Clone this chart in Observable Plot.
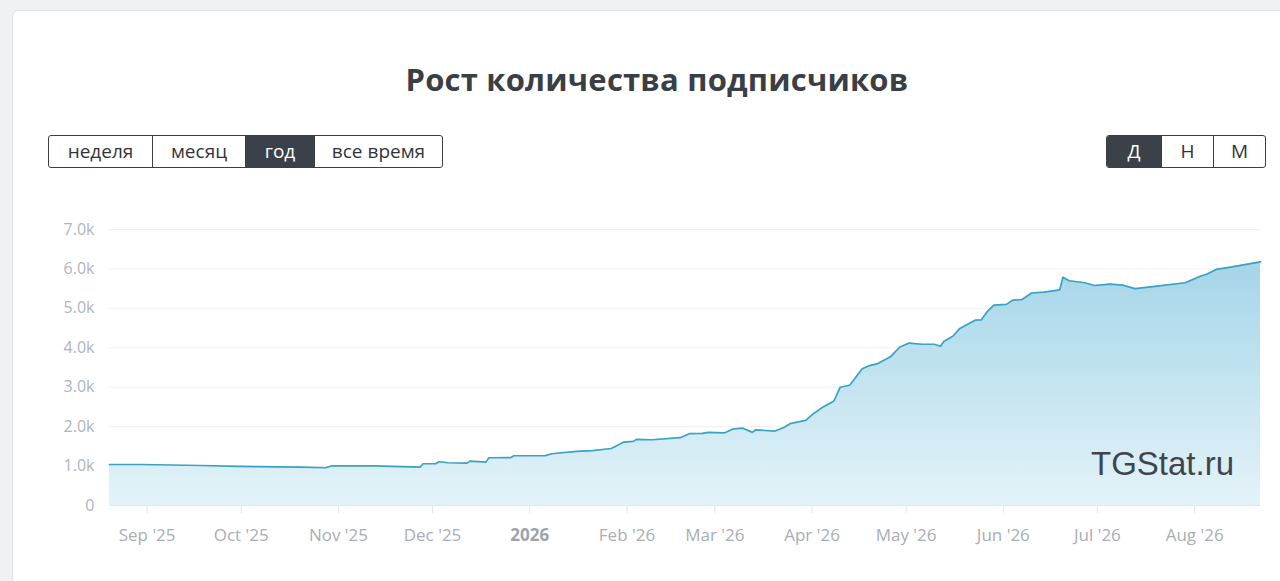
<!DOCTYPE html>
<html>
<head>
<meta charset="utf-8">
<script src="https://cdn.jsdelivr.net/npm/d3@7"></script>
<script src="https://cdn.jsdelivr.net/npm/@observablehq/plot@0.6"></script>
<style>
  html, body { margin: 0; padding: 0; }
  body { width: 1280px; height: 581px; overflow: hidden; background: #f0f1f3; font-family: "Open Sans", sans-serif; position: relative; }
  #card { position: absolute; left: 12px; top: 10px; width: 1300px; height: 620px; background: #fff; border: 1px solid #e1e3e7; border-radius: 6px; }
  #title { position: absolute; left: 0; top: 58px; width: 1314px; text-align: center; font-size: 31px; font-weight: 700; color: #3a3f46; letter-spacing: 0.2px; }
  .group { position: absolute; top: 135px; height: 31px; display: flex; border: 1px solid #3a3f46; border-radius: 3px; overflow: hidden; background: #fff; }
  .group div { height: 31px; line-height: 31px; text-align: center; font-size: 19px; color: #2f343a; border-left: 1px solid #3a3f46; box-sizing: border-box; }
  .group div:first-child { border-left: none; }
  .group div.on { background: #3b4149; color: #fff; }
  #wm { position: absolute; left: 1091px; top: 447px; font-family: "Liberation Sans", Arial, sans-serif; font-size: 33px; line-height: 1; color: #41454b; }
  #chart { position: absolute; left: 0; top: 200px; }
</style>
</head>
<body>
<div id="card"></div>
<div id="title">Рост количества подписчиков</div>
<div class="group" id="g1" style="left:48px;"></div>
<div class="group" id="g2" style="left:1106px;"></div>
<div id="chart"></div>
<div id="wm">TGStat.ru</div>
<script>
// ---- data ----
const periodButtons = ["неделя", "месяц", "год", "все время"];
const periodWidths = [103, 93, 69, 128];
const scaleButtons = ["Д", "Н", "М"];
const scaleWidths = [54, 52, 52];

const dates = [
  "2025-08-20","2025-08-30","2025-09-18","2025-09-30","2025-10-20","2025-10-28","2025-10-30",
  "2025-11-12","2025-11-27","2025-11-28","2025-12-02","2025-12-03","2025-12-06","2025-12-12",
  "2025-12-13","2025-12-18","2025-12-19","2025-12-26","2025-12-27","2026-01-06","2026-01-08",
  "2026-01-16","2026-01-21","2026-01-27","2026-01-31","2026-02-03","2026-02-04","2026-02-09",
  "2026-02-18","2026-02-21","2026-02-25","2026-02-27","2026-03-04","2026-03-07","2026-03-10",
  "2026-03-13","2026-03-14","2026-03-20","2026-03-23","2026-03-25","2026-03-30","2026-04-01",
  "2026-04-04","2026-04-08","2026-04-10","2026-04-13","2026-04-14","2026-04-17","2026-04-19",
  "2026-04-22","2026-04-26","2026-04-29","2026-05-02","2026-05-06","2026-05-10","2026-05-12",
  "2026-05-13","2026-05-16","2026-05-18","2026-05-23","2026-05-25","2026-05-27","2026-05-29",
  "2026-06-02","2026-06-04","2026-06-07","2026-06-10","2026-06-14","2026-06-19","2026-06-20",
  "2026-06-22","2026-06-27","2026-06-30","2026-07-05","2026-07-09","2026-07-13","2026-07-18",
  "2026-07-29","2026-08-03","2026-08-05","2026-08-08","2026-08-12","2026-08-22"
];
const subscribers = [
  1040,1040,1015,990,975,957,1008,
  1005,973,1059,1059,1110,1084,1075,
  1126,1100,1211,1215,1262,1265,1313,
  1375,1390,1445,1608,1626,1676,1668,
  1719,1825,1830,1855,1840,1945,1960,
  1855,1920,1885,1980,2075,2160,2300,
  2470,2650,3000,3050,3150,3470,3540,
  3600,3770,4020,4120,4090,4090,4040,
  4160,4300,4480,4700,4710,4930,5080,
  5100,5210,5225,5390,5410,5470,5790,
  5700,5650,5580,5615,5590,5500,5546,
  5650,5820,5870,5990,6040,6180
];

const yTicks = [0, 1000, 2000, 3000, 4000, 5000, 6000, 7000];
const yTickLabels = ["0", "1.0k", "2.0k", "3.0k", "4.0k", "5.0k", "6.0k", "7.0k"];
const xTickDates = ["2025-09-01","2025-10-01","2025-11-01","2025-12-01","2026-01-01","2026-02-01",
  "2026-03-01","2026-04-01","2026-05-01","2026-06-01","2026-07-01","2026-08-01"];
const xTickLabels = ["Sep '25","Oct '25","Nov '25","Dec '25","2026","Feb '26",
  "Mar '26","Apr '26","May '26","Jun '26","Jul '26","Aug '26"];

// ---- buttons ----
function buildGroup(el, labels, widths, active) {
  labels.forEach((t, i) => {
    const d = document.createElement("div");
    d.textContent = t;
    d.style.width = widths[i] + "px";
    if (i === active) d.className = "on";
    el.appendChild(d);
  });
}
buildGroup(document.getElementById("g1"), periodButtons, periodWidths, 2);
buildGroup(document.getElementById("g2"), scaleButtons, scaleWidths, 0);

// ---- chart ----
const parse = d3.utcParse("%Y-%m-%d");
const data = dates.map((d, i) => ({date: parse(d), value: subscribers[i]}));
const xTicks = xTickDates.map(parse);
const xLabelOf = new Map(xTicks.map((d, i) => [+d, xTickLabels[i]]));
const yLabelOf = new Map(yTicks.map((v, i) => [v, yTickLabels[i]]));

const plot = Plot.plot({
  width: 1280,
  height: 370,
  marginTop: 29,
  marginBottom: 65,
  marginLeft: 109,
  marginRight: 20,
  style: {fontFamily: "'Open Sans', sans-serif", background: "transparent", overflow: "visible"},
  x: {type: "utc", domain: d3.extent(data, d => d.date)},
  y: {domain: [0, 7000]},
  marks: [
    Plot.gridY(yTicks, {stroke: "#eef0f2", strokeOpacity: 1}),
    Plot.areaY(data, {x: "date", y: "value", fill: "url(#areaGrad)", curve: "linear"}),
    Plot.lineY(data, {x: "date", y: "value", stroke: "#3aa3c4", strokeWidth: 1.7, curve: "linear"}),
    Plot.ruleY([0], {stroke: "#e2e5e9"}),
    Plot.axisX({ticks: xTicks, tickFormat: d => xLabelOf.get(+d), tickSize: 8, tickPadding: 15,
      stroke: "#e2e5e9", strokeOpacity: 1, fill: "#a9adb4", fontSize: 17, label: null}),
    Plot.axisY({ticks: yTicks, tickFormat: v => yLabelOf.get(v), tickSize: 0, tickPadding: 15,
      fill: "#b0b4bb", fontSize: 16, label: null})
  ]
});

const svg = d3.select(plot);
const defs = svg.insert("defs", ":first-child");
const grad = defs.append("linearGradient").attr("id", "areaGrad")
  .attr("gradientUnits", "userSpaceOnUse").attr("x1", 0).attr("x2", 0).attr("y1", 29).attr("y2", 305);
grad.append("stop").attr("offset", "0%").attr("stop-color", "#9cd1e6");
grad.append("stop").attr("offset", "100%").attr("stop-color", "#e4f3f9");
svg.selectAll("text").filter(function() { return this.textContent === "2026"; })
  .attr("font-weight", 700).attr("fill", "#9ea3aa");

document.getElementById("chart").appendChild(plot);
</script>
</body>
</html>
